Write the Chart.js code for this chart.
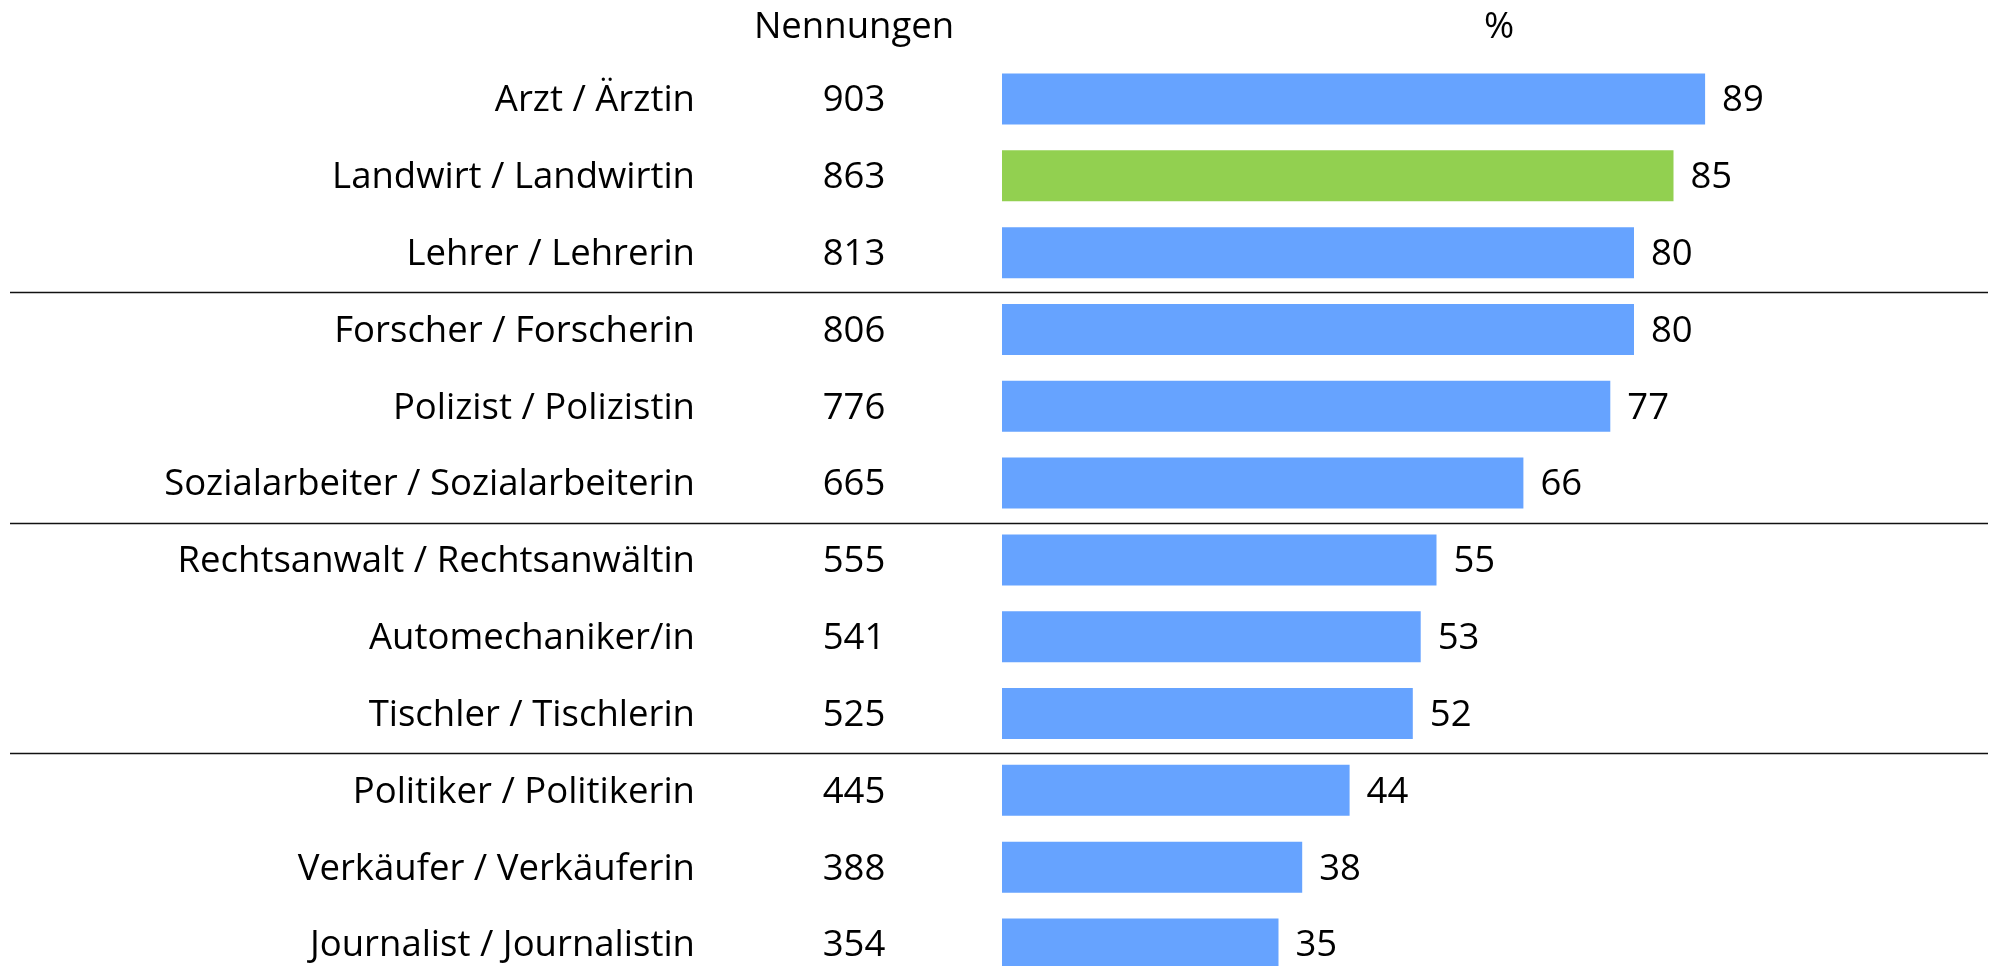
<!DOCTYPE html>
<html>
<head>
<meta charset="utf-8">
<script src="https://cdn.jsdelivr.net/npm/chart.js@4/dist/chart.umd.min.js"></script>
<style>
  html, body { margin: 0; padding: 0; background: #fff; overflow: hidden; }
  #wrap { position: absolute; left: 0; top: 0; width: 1992px; height: 1000px; }
</style>
</head>
<body>
<div id="wrap"><canvas id="myChart" width="1992" height="1000"></canvas></div>
<script>
const berufe = [
  'Arzt / Ärztin',
  'Landwirt / Landwirtin',
  'Lehrer / Lehrerin',
  'Forscher / Forscherin',
  'Polizist / Polizistin',
  'Sozialarbeiter / Sozialarbeiterin',
  'Rechtsanwalt / Rechtsanwältin',
  'Automechaniker/in',
  'Tischler / Tischlerin',
  'Politiker / Politikerin',
  'Verkäufer / Verkäuferin',
  'Journalist / Journalistin'
];
const nennungen = [903, 863, 813, 806, 776, 665, 555, 541, 525, 445, 388, 354];
const prozent = [89, 85, 80, 80, 77, 66, 55, 53, 52, 44, 38, 35];
const hervorgehoben = 'Landwirt / Landwirtin';
const trennNach = [2, 5, 8];
const spaltenTitel = ['Nennungen', '%'];

const fontName = "'Open Sans', sans-serif";
const blau = '#66A3FF';
const gruen = '#92D050';

let barColors = berufe.map(b => b == hervorgehoben ? gruen : blau);

const tablePlugin = {
  id: 'tablePlugin',
  afterDatasetsDraw: (chart) => {
    let ctx = chart.ctx;
    let yScale = chart.scales.y;
    let meta = chart.getDatasetMeta(0);
    ctx.save();
    ctx.fillStyle = '#000';
    ctx.font = '36.5px ' + fontName;
    ctx.textBaseline = 'middle';

    // headers
    ctx.textAlign = 'center';
    ctx.fillText(spaltenTitel[0], 854, 28);
    ctx.fillText(spaltenTitel[1], 1499, 28);

    berufe.forEach((b, i) => {
      let y = yScale.getPixelForValue(i) + 2;
      ctx.textAlign = 'right';
      ctx.fillText(b, 695, y);
      ctx.textAlign = 'center';
      ctx.fillText(String(nennungen[i]), 854, y);
      ctx.textAlign = 'left';
      let bar = meta.data[i];
      ctx.fillText(String(prozent[i]), bar.x + 17, y);
    });

    // separators
    ctx.strokeStyle = '#111';
    ctx.lineWidth = 1.6;
    trennNach.forEach(idx => {
      let y = Math.round((yScale.getPixelForValue(idx) + yScale.getPixelForValue(idx + 1)) / 2) + 1.5;
      ctx.beginPath();
      ctx.moveTo(10, y);
      ctx.lineTo(1988, y);
      ctx.stroke();
    });
    ctx.restore();
  }
};

let ctx = document.getElementById('myChart').getContext('2d');
let chart = new Chart(ctx, {
  type: 'bar',
  data: {
    labels: berufe,
    datasets: [{
      data: prozent,
      backgroundColor: barColors,
      borderWidth: 0,
      categoryPercentage: 0.664,
      barPercentage: 1.0
    }]
  },
  options: {
    indexAxis: 'y',
    responsive: false,
    animation: false,
    layout: {
      padding: { left: 1002, right: 200, top: 60.6, bottom: 17.6 }
    },
    scales: {
      x: { display: false, min: 0, max: 100 },
      y: { display: false }
    },
    plugins: {
      legend: { display: false },
      tooltip: { enabled: false }
    }
  },
  plugins: [tablePlugin]
});
</script>
</body>
</html>
